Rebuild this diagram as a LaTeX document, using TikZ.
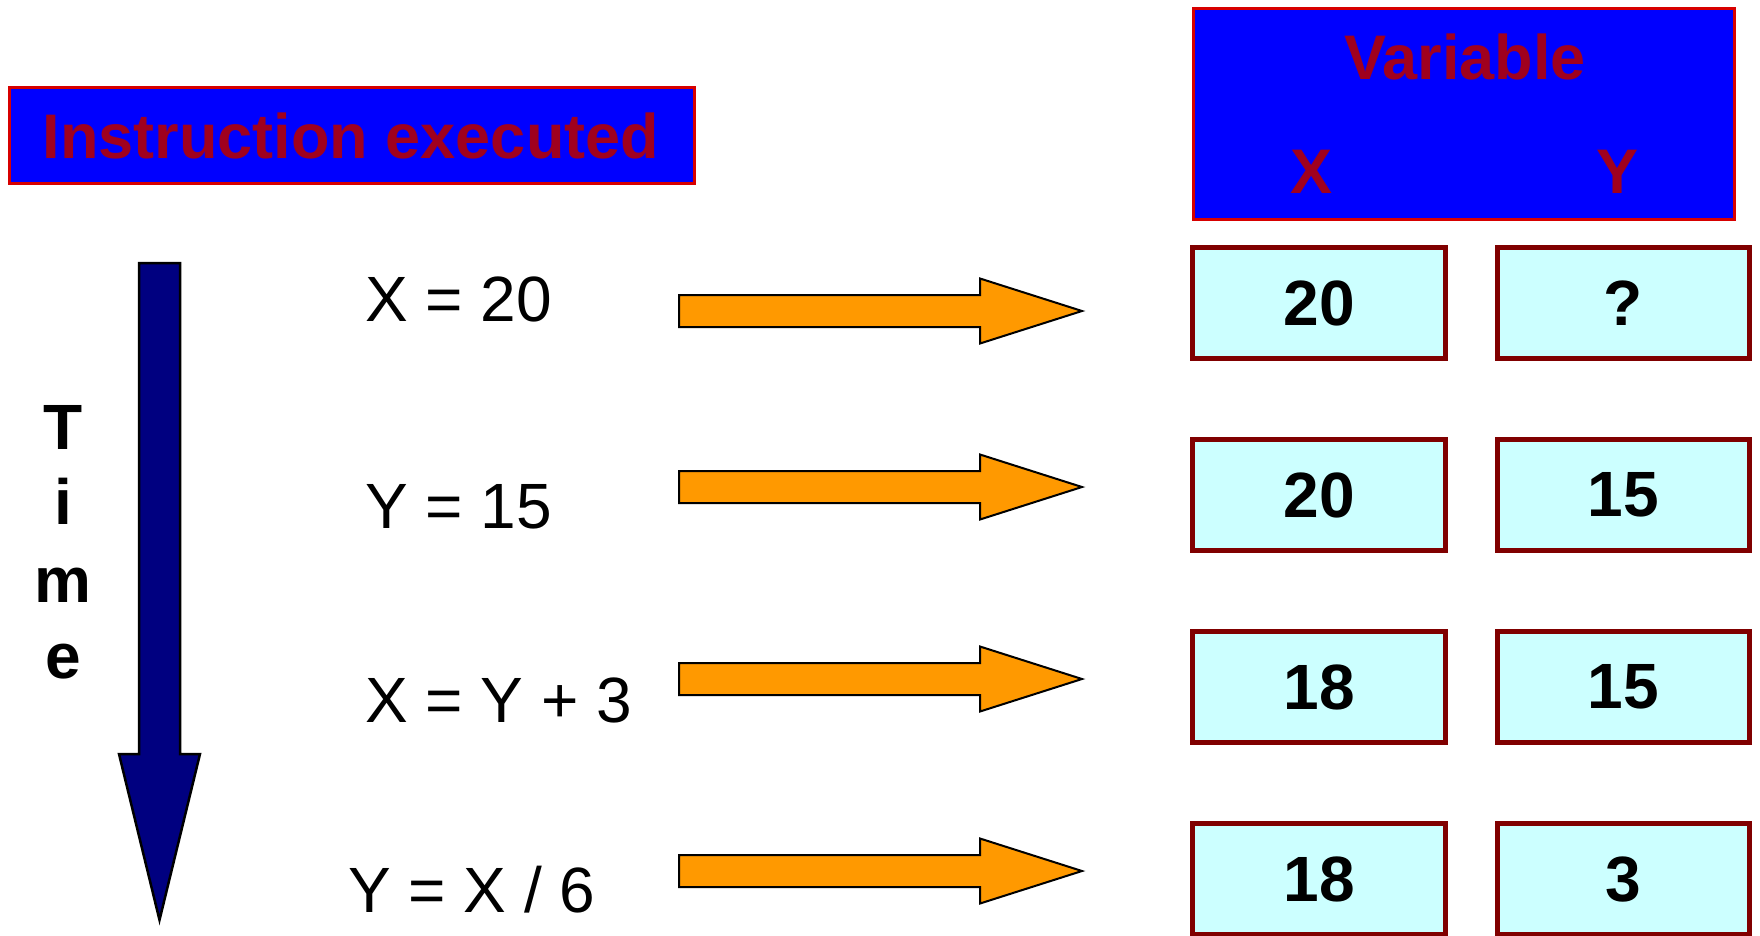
\documentclass[tikz,border=0pt]{standalone}
\usepackage{fontspec}
\setmainfont{Liberation Sans}
\definecolor{hdrblue}{RGB}{0,0,255}
\definecolor{hdrborder}{RGB}{215,0,0}
\definecolor{hdrtext}{RGB}{160,0,30}
\definecolor{valfill}{RGB}{204,255,255}
\definecolor{valborder}{RGB}{128,0,0}
\definecolor{arroworange}{RGB}{255,153,0}
\definecolor{timenavy}{RGB}{0,0,128}
\begin{document}
\begin{tikzpicture}[x=1pt,y=-1pt,
  hdrbox/.style={draw=hdrborder, line width=3pt, fill=hdrblue, inner sep=0pt},
  hdrlabel/.style={text=hdrtext, font=\fontsize{63}{75}\selectfont\bfseries, inner sep=0pt},
  valbox/.style={draw=valborder, line width=5pt, fill=valfill, minimum height=111pt, inner sep=0pt,
    font=\fontsize{64}{77}\selectfont\bfseries},
  instr/.style={anchor=base west, inner sep=0pt, font=\fontsize{64}{77}\selectfont},
  timeletter/.style={anchor=base, inner sep=0pt, font=\fontsize{64}{77}\selectfont\bfseries},
  blockarrow/.pic={\draw[fill=arroworange, line width=2pt, line join=miter]
      (0,-16) -- (301,-16) -- (301,-32.5) -- (403,0) -- (301,32.5) -- (301,16) -- (0,16) -- cycle;}
]
\useasboundingbox (0,0) rectangle (1760,935);

% header boxes
\node[hdrbox, minimum width=685pt, minimum height=96pt] (instrhdr) at (352,135.5) {};
\node[hdrlabel] (instrtext) at (351,136) {Instruction executed};

\node[hdrbox, minimum width=541pt, minimum height=211pt] (varhdr) at (1464,114) {};
\node[hdrlabel, anchor=base] (vartext) at (1465,79) {Variable};
\node[hdrlabel, anchor=base] (xhdr) at (1311,193) {X};
\node[hdrlabel, anchor=base] (yhdr) at (1617,193) {Y};

% time arrow
\draw[fill=timenavy, line width=2.5pt, line join=miter]
  (139,263) -- (180,263) -- (180,754) -- (200,754) -- (159.5,920) -- (119,754) -- (139,754) -- cycle;
\node[timeletter] (tT) at (63,449) {T};
\node[timeletter] (ti) at (63,524) {i};
\node[timeletter] (tm) at (63,602) {m};
\node[timeletter] (te) at (63,678) {e};

% instructions
\node[instr] (i1) at (365,321) {X = 20};
\node[instr] (i2) at (365,528) {Y = 15};
\node[instr] (i3) at (365,722) {X = Y + 3};
\node[instr] (i4) at (348,912) {Y = X / 6};

% block arrows
\pic at (679,311) {blockarrow};
\pic at (679,487) {blockarrow};
\pic at (679,679) {blockarrow};
\pic at (679,871) {blockarrow};

% value boxes
\node[valbox, minimum width=253pt] (x1) at (1319,303) {20};
\node[valbox, minimum width=252pt] (y1) at (1623.5,303) {?};
\node[valbox, minimum width=253pt] (x2) at (1319,495) {20};
\node[valbox, minimum width=252pt] (y2) at (1623.5,495) {15};
\node[valbox, minimum width=253pt] (x3) at (1319,687) {18};
\node[valbox, minimum width=252pt] (y3) at (1623.5,687) {15};
\node[valbox, minimum width=253pt] (x4) at (1319,879) {18};
\node[valbox, minimum width=252pt] (y4) at (1623.5,879) {3};
\end{tikzpicture}
\end{document}
